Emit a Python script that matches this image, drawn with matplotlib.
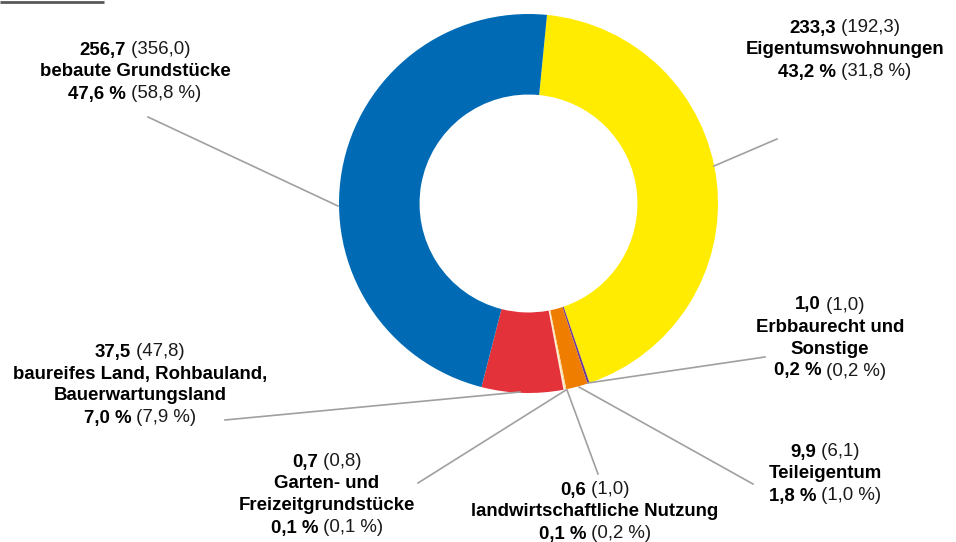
import numpy as np
import matplotlib
matplotlib.use("Agg")
import matplotlib.pyplot as plt

plt.rcParams['font.family'] = ['Liberation Sans', 'DejaVu Sans']

# Werte (Mio. EUR) und Anteile, Vorjahr in Klammern
categories = ["Eigentumswohnungen", "Erbbaurecht und\nSonstige", "Teileigentum",
              "landwirtschaftliche Nutzung", "Garten- und\nFreizeitgrundstücke",
              "baureifes Land, Rohbauland,\nBauerwartungsland", "bebaute Grundstücke"]
values = [233.3, 1.0, 9.9, 0.6, 0.7, 37.5, 256.7]
values_prev = [192.3, 1.0, 6.1, 1.0, 0.8, 47.8, 356.0]
shares = [43.2, 0.2, 1.8, 0.1, 0.1, 7.0, 47.6]
shares_prev = [31.8, 0.2, 1.0, 0.2, 0.1, 7.9, 58.8]
colors = ["#FFEC00", "#6B3A96", "#EE7D00", "#FBD69A", "#FFF1CF", "#E4323A", "#006AB4"]

# layout in pixels (y from top)
W, H = 956, 542
cx, cy, R = 528.5, 203.5, 189.5
label_pos = [(845, 28), (830, 305), (825, 452), (595, 490), (327, 462), (140, 352), (135, 50)]
leader = [((777, 139), (714, 166)), ((765, 357), (588, 383)), ((753, 484), (579, 387)),
          ((598, 474), (567, 390)), ((418, 483), (566, 390)), ((225, 420), (520, 392)),
          ((148, 117), (338, 206))]
line_h = 22.0
fs = 13.4


def de(v):
    return f"{v:.1f}".replace(".", ",")


fig = plt.figure(figsize=(W / 100, H / 100), dpi=100)
ax = fig.add_axes([0, 0, 1, 1])
ax.set_xlim(0, W)
ax.set_ylim(0, H)
ax.axis("off")

ax.pie(values, colors=colors, center=(cx, H - cy), radius=R, startangle=90 - 5.6,
       counterclock=False, wedgeprops=dict(width=R * 0.425, linewidth=0))
ax.set_xlim(0, W)
ax.set_ylim(0, H)
ax.set_aspect("equal")

ax.plot([0, 104], [H - 2, H - 2], color="#595959", lw=2, solid_capstyle="butt")

for (p1, p2) in leader:
    ax.plot([p1[0], p2[0]], [H - p1[1], H - p2[1]], color="#a0a0a0", lw=1.2)

renderer = fig.canvas.get_renderer()


def mixed_line(x, y, bold, regular):
    tb = ax.text(0, H - y, bold, fontsize=fs, fontweight="bold", va="center", ha="left")
    tr = ax.text(0, H - y, regular, fontsize=fs, va="center", ha="left", color="#1a1a1a")
    wb = tb.get_window_extent(renderer).width
    wr = tr.get_window_extent(renderer).width
    x0 = x - (wb + wr) / 2
    tb.set_x(x0)
    tr.set_x(x0 + wb)


for i, cat in enumerate(categories):
    x, y = label_pos[i]
    mixed_line(x, y, de(values[i]), " (" + de(values_prev[i]) + ")")
    names = cat.split("\n")
    for j, nm in enumerate(names):
        ax.text(x, H - (y + line_h * (j + 1)), nm, fontsize=fs, fontweight="bold",
                ha="center", va="center")
    mixed_line(x, y + line_h * (len(names) + 1), de(shares[i]) + " %",
               " (" + de(shares_prev[i]) + " %)")

fig.savefig("out.png", dpi=100)
